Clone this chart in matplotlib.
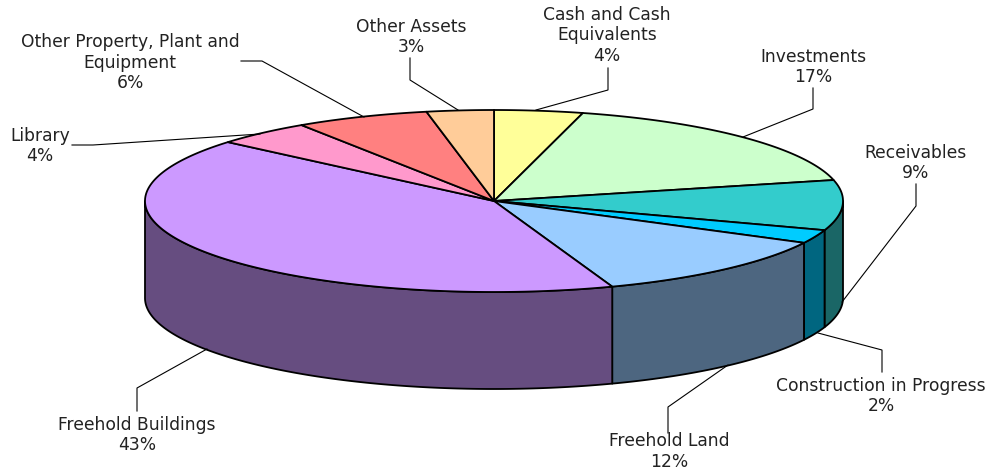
import numpy as np
import matplotlib
matplotlib.use('Agg')
import matplotlib.pyplot as plt
from matplotlib.colors import to_rgb

# data (clockwise from 12 o'clock)
categories = ['Cash and Cash\nEquivalents', 'Investments', 'Receivables',
              'Construction in Progress', 'Freehold Land', 'Freehold Buildings',
              'Library', 'Other Property, Plant and\nEquipment', 'Other Assets']
values = [4.1, 17.2, 8.9, 2.4, 11.9, 41.7, 4.5, 6.2, 3.1]
percent_labels = ['4%', '17%', '9%', '2%', '12%', '43%', '4%', '6%', '3%']
colors = ['#FFFF99', '#CCFFCC', '#33CCCC', '#00CCFF', '#99CCFF',
          '#CC99FF', '#FF99CC', '#FF8080', '#FFCC99']

# pie geometry in pixels
cx, cy = 494, 201
rx, ry = 349, 91
depth = 97

# label centres and leader lines
label_pos = [(607, 35.5), (813, 67), (916, 163), (881, 396), (669, 451.5),
             (137, 435), (40, 146), (130, 62.5), (411, 37)]
leaders = [[(608, 68), (608, 90), (536, 110)],
           [(813, 88), (813, 109), (743, 137)],
           [(916, 184), (916, 206), (842, 302)],
           [(882, 372), (882, 350), (818, 333)],
           [(668, 433), (668, 407), (728, 365)],
           [(137, 411), (137, 388), (207, 349)],
           [(72, 145), (93, 145), (260, 134)],
           [(241, 61), (262, 61), (364, 117)],
           [(410, 58), (410, 80), (458, 110)]]


def ellipse_pts(t0, t1, dy=0):
    # t measured clockwise from the top, degrees
    t = np.radians(np.linspace(t0, t1, 200))
    return cx + rx * np.sin(t), cy - ry * np.cos(t) + dy


fig = plt.figure(figsize=(9.95, 4.71), dpi=100)
ax = fig.add_axes([0, 0, 1, 1])
ax.set_xlim(0, 995)
ax.set_ylim(471, 0)
ax.axis('off')

edges = np.cumsum([0] + values) / sum(values) * 360

# side walls, only the front half of the rim shows
for i in range(len(values)):
    a = max(edges[i], 90)
    b = min(edges[i + 1], 270)
    if b <= a:
        continue
    x, y = ellipse_pts(a, b)
    xb, yb = ellipse_pts(a, b, depth)
    wall = tuple(0.5 * c for c in to_rgb(colors[i]))
    ax.fill(np.r_[x, xb[::-1]], np.r_[y, yb[::-1]], facecolor=wall,
            edgecolor='black', linewidth=1.3, joinstyle='round')

# top face
for i in range(len(values)):
    x, y = ellipse_pts(edges[i], edges[i + 1])
    ax.fill(np.r_[cx, x], np.r_[cy, y], facecolor=colors[i],
            edgecolor='black', linewidth=1.3, joinstyle='round')

for line in leaders:
    xs, ys = zip(*line)
    ax.plot(xs, ys, color='black', linewidth=0.8, solid_joinstyle='miter')

for name, pct, (lx, ly) in zip(categories, percent_labels, label_pos):
    ax.text(lx, ly, name + '\n' + pct, ha='center', va='center', fontsize=12.3,
            color='#222222', family='DejaVu Sans', linespacing=1.16)

fig.savefig('out.png', dpi=100, facecolor='white')
